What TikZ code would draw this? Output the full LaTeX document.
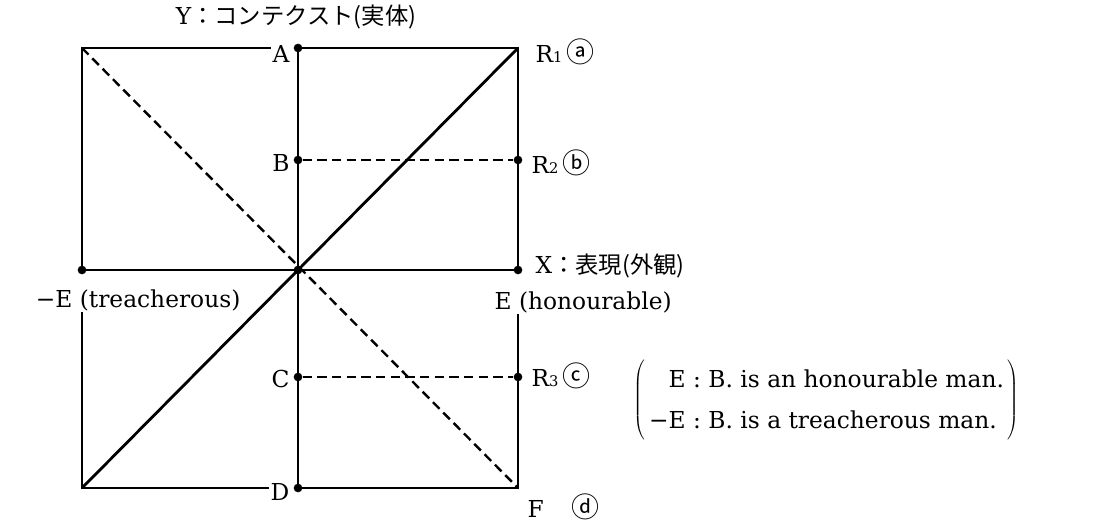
\documentclass[tikz,border=0pt]{standalone}
\usepackage{fontspec}
\setmainfont{DejaVu Serif}
\newfontfamily\jpfont{Noto Sans CJK JP}
\usetikzlibrary{positioning}

\begin{document}
\begin{tikzpicture}[x=0.75pt,y=-0.75pt,
    ln/.style={line width=2.1pt},
    dsh/.style={line width=1.8pt,dash pattern=on 7pt off 4pt},
    pt/.style={circle,fill,inner sep=0pt,minimum size=6.5pt},
    lab/.style={font=\fontsize{17.5}{21}\selectfont,inner sep=1pt}]
  \path[use as bounding box] (0,0) rectangle (1096,523);
  % points of the two squares
  \coordinate (TL) at (82,48);
  \node[pt] (A) at (298,48) {};
  \coordinate (R1) at (518,48);
  \node[pt] (B) at (298,160) {};
  \node[pt] (R2) at (518,160) {};
  \node[pt] (mE) at (82,270) {};
  \node[pt] (O) at (298,270) {};
  \node[pt] (X) at (518,270) {};
  \node[pt] (C) at (298,377) {};
  \node[pt] (R3) at (518,377) {};
  \coordinate (BL) at (82,488);
  \node[pt] (D) at (298,488) {};
  \coordinate (F) at (518,488);
  % labels
  \node[lab] (Ylab) at (296,17) {Y{\jpfont ：コンテクスト(実体)}};
  \node[lab,anchor=east] (Alab) at (291,54) {A};
  \node[lab,anchor=east] (Blab) at (291,163) {B};
  \node[lab,anchor=east] (Clab) at (291,379) {C};
  \node[lab,anchor=east] (Dlab) at (291,492) {D};
  \node[lab,anchor=west] (R1lab) at (534,52) {R{\fontsize{11}{11}\selectfont 1}\,{\jpfont\fontsize{21}{21}\selectfont ⓐ}};
  \node[lab,anchor=west] (R2lab) at (530,163) {R{\fontsize{11}{11}\selectfont 2}\,{\jpfont\fontsize{21}{21}\selectfont ⓑ}};
  \node[lab,anchor=west] (R3lab) at (530,376) {R{\fontsize{11}{11}\selectfont 3}\,{\jpfont\fontsize{21}{21}\selectfont ⓒ}};
  \node[lab,anchor=west] (Xlab) at (534,266) {X{\jpfont ：表現(外観)}};
  \node[lab,anchor=west] (Elab) at (493,302) {E (honourable)};
  \node[lab,anchor=east] (mElab) at (242,300) {−E (treacherous)};
  \node[lab,anchor=west] (Flab) at (526,507) {F\quad\,{\jpfont\fontsize{21}{21}\selectfont ⓓ}};
  \node[lab,anchor=west] (note) at (632,400) {\renewcommand\arraystretch{1.45}%
    $\left(\begin{tabular}{@{\,}r@{ : }l@{\,}} E & B.\ is an honourable man.\\
      −E & B.\ is a treacherous man.\end{tabular}\right)$};
  % frame and axes
  \draw[ln] (Alab.west |- TL) -- (TL) -- (mE.center) -- (X.center) -- (R1) -- (A.center) -- (D.center);
  \draw[ln] (mElab.south -| BL) -- (BL) -- (Dlab.west |- BL);
  \draw[ln] (D.center) -- (F) -- (Elab.south -| F);
  \draw[ln] (BL) -- (R1);
  \draw[dsh] (TL) -- (F);
  \draw[dsh] (B) -- (R2);
  \draw[dsh] (C) -- (R3);
\end{tikzpicture}
\end{document}
